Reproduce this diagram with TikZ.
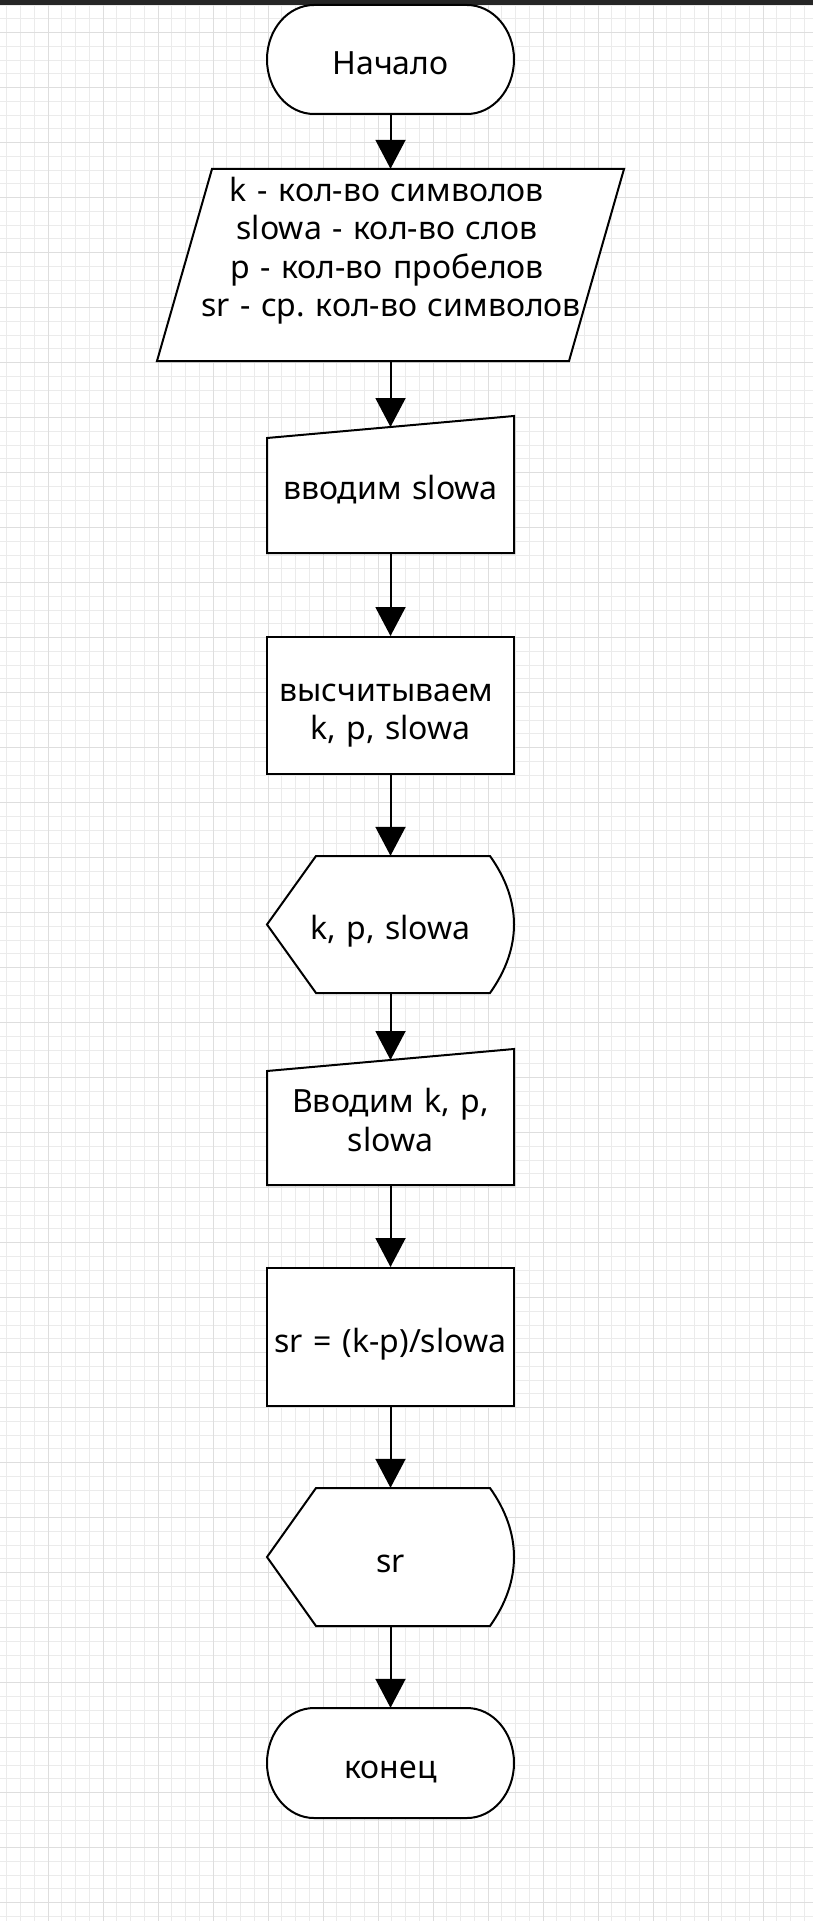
\documentclass[tikz,border=0pt]{standalone}
\usepackage{fontspec}
\setmainfont{Noto Sans}
\frenchspacing
\usetikzlibrary{arrows.meta}

\begin{document}
\begin{tikzpicture}[x=1pt, y=1pt,
    minor/.style={draw=gray!16, line width=0.9pt},
    major/.style={draw=gray!26, line width=0.9pt},
    outline/.style={draw=black, line width=2pt, fill=white},
    block/.style={minimum width=247pt, text width=247pt, inner sep=0pt, align=center,
        font=\fontsize{32}{38.4}\selectfont,
        execute at begin node={\rule{0pt}{38pt}}, execute at end node={\rule[-8pt]{0pt}{8pt}}},
    flow/.style={line width=2pt, -{Triangle[length=29pt, width=30pt]}}]

    \useasboundingbox (0, 0) rectangle (813, -1921);
    \fill[white] (0, 0) rectangle (813, -1921);

    % grid
    \foreach \i in {0,...,58}
        \draw[minor] ({6.7+13.75*\i}, 0) -- ({6.7+13.75*\i}, -1921);
    \foreach \j in {0,...,139}
        \draw[minor] (0, {-5-13.75*\j}) -- (813, {-5-13.75*\j});
    \foreach \i in {3,7,...,55}
        \draw[major] ({6.7+13.75*\i}, 0) -- ({6.7+13.75*\i}, -1921);
    \foreach \j in {2,6,...,138}
        \draw[major] (0, {-5-13.75*\j}) -- (813, {-5-13.75*\j});
    \fill[black!85] (0, 0) rectangle (813, -5);

    % Начало
    \draw[outline] (314, -5) -- (467, -5) arc[start angle=90, end angle=-90, x radius=47, y radius=54.5]
        -- (314, -114) arc[start angle=270, end angle=90, x radius=47, y radius=54.5] -- cycle;
    \node[block, minimum height=109pt] (start) at (390.5, -59.5) {Начало};

    % data
    \draw[outline] (212, -169) -- (624, -169) -- (569, -361) -- (157, -361) -- cycle;
    \node[block, minimum height=192pt] (data) at (390.5, -265) {};
    \node[block, text width=420pt] (datatext) at (387, -244) {k - кол-во символов\\ slowa - кол-во слов\\
        p - кол-во пробелов\\ \hspace*{8pt}sr - ср. кол-во символов};

    % вводим slowa
    \draw[outline] (267, -438) -- (514, -416) -- (514, -553) -- (267, -553) -- cycle;
    \node[block, minimum height=137pt] (in1) at (390.5, -484.5) {вводим slowa};
    \coordinate (in1top) at (390.5, -427);

    % высчитываем
    \node[block, outline, minimum height=137pt] (calc) at (390.5, -705.5) {высчитываем\hspace{8pt}\mbox{}\\ k, p, slowa};

    % k, p, slowa
    \draw[outline] (267, -924.5) -- (316, -856) -- (490, -856) .. controls (522, -901) and (522, -948) .. (490, -993)
        -- (316, -993) -- cycle;
    \node[block, minimum height=137pt] (out1) at (390.5, -924.5) {k, p, slowa};

    % Вводим k, p, slowa
    \draw[outline] (267, -1071) -- (514, -1049) -- (514, -1185) -- (267, -1185) -- cycle;
    \node[block, minimum height=136pt] (in2) at (390.5, -1117) {Вводим k, p,\\ slowa};
    \coordinate (in2top) at (390.5, -1060);

    % sr = ...
    \node[block, outline, minimum height=138pt] (calc2) at (390.5, -1337) {sr = (k-p)/slowa};

    % sr
    \draw[outline] (267, -1557) -- (316, -1488) -- (490, -1488) .. controls (522, -1533) and (522, -1581) .. (490, -1626)
        -- (316, -1626) -- cycle;
    \node[block, minimum height=138pt] (out2) at (390.5, -1557) {sr};

    % конец
    \draw[outline] (314, -1708) -- (467, -1708) arc[start angle=90, end angle=-90, x radius=47, y radius=55]
        -- (314, -1818) arc[start angle=270, end angle=90, x radius=47, y radius=55] -- cycle;
    \node[block, minimum height=110pt] (finish) at (390.5, -1763) {конец};

    % arrows
    \draw[flow] (start) -- (data);
    \draw[flow] (data) -- (in1top);
    \draw[flow] (in1) -- (calc);
    \draw[flow] (calc) -- (out1);
    \draw[flow] (out1) -- (in2top);
    \draw[flow] (in2) -- (calc2);
    \draw[flow] (calc2) -- (out2);
    \draw[flow] (out2) -- (finish);

\end{tikzpicture}
\end{document}
